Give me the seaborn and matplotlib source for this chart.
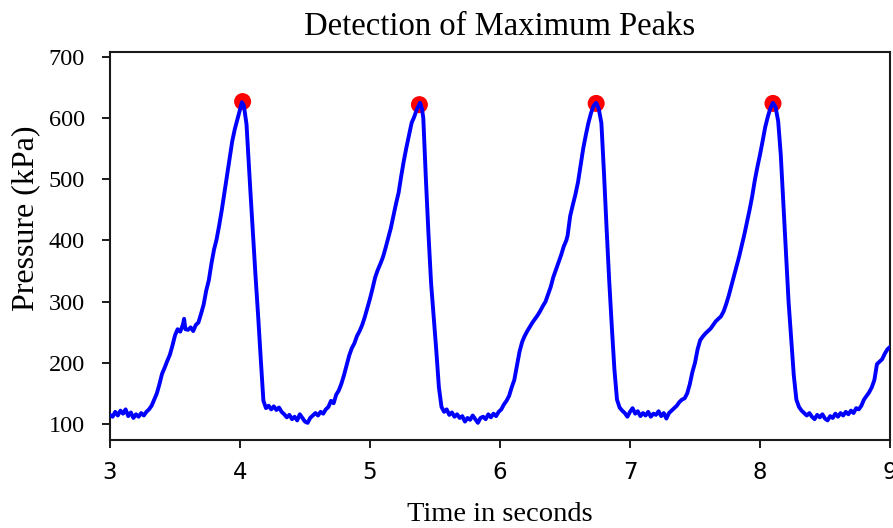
import matplotlib
matplotlib.use("Agg")
import matplotlib.pyplot as plt
import seaborn as sns
import pandas as pd

# ---- data ----
time_s = [
    3.00, 3.02, 3.04, 3.06, 3.08, 3.10, 3.12, 3.14, 3.16, 3.18, 3.20, 3.22, 3.24, 3.26,
    3.28, 3.30, 3.32, 3.34, 3.36, 3.38, 3.40, 3.42, 3.44, 3.46, 3.48, 3.50, 3.52, 3.54,
    3.56, 3.57, 3.58, 3.60, 3.62, 3.64, 3.66, 3.68, 3.70, 3.72, 3.74, 3.76, 3.78, 3.80,
    3.82, 3.84, 3.86, 3.88, 3.90, 3.92, 3.94, 3.96, 3.98, 4.00, 4.015, 4.03, 4.05, 4.08,
    4.10, 4.12, 4.14, 4.16, 4.18, 4.20,
    4.22, 4.24, 4.26, 4.28, 4.30, 4.32, 4.34, 4.36, 4.38, 4.40, 4.42, 4.44, 4.46, 4.48,
    4.50, 4.52, 4.54, 4.56, 4.58, 4.60, 4.62, 4.64, 4.66, 4.68, 4.70, 4.72, 4.74, 4.76,
    4.78, 4.80, 4.82, 4.84, 4.86, 4.88, 4.90, 4.92, 4.94, 4.96, 4.98, 5.00, 5.02, 5.04,
    5.06, 5.08, 5.10, 5.12, 5.14, 5.16, 5.18, 5.20, 5.22, 5.24, 5.26, 5.28, 5.30, 5.32,
    5.34, 5.36, 5.385, 5.40, 5.41, 5.43, 5.45, 5.47, 5.49, 5.51, 5.53, 5.55,
    5.57, 5.59, 5.61, 5.63, 5.65, 5.67, 5.69, 5.71, 5.73, 5.75, 5.77, 5.79, 5.81, 5.83,
    5.85, 5.87, 5.89, 5.91, 5.93, 5.95, 5.97, 5.99, 6.01, 6.03, 6.05, 6.07, 6.09, 6.11,
    6.13, 6.15, 6.17, 6.19, 6.21, 6.23, 6.25, 6.27, 6.29, 6.31, 6.33, 6.35, 6.37, 6.39,
    6.41, 6.43, 6.45, 6.47, 6.49, 6.51, 6.52, 6.54, 6.56, 6.58, 6.60, 6.62, 6.64, 6.66,
    6.68, 6.70, 6.72, 6.74, 6.76, 6.78, 6.80, 6.82, 6.84, 6.86, 6.88, 6.90, 6.92,
    6.94, 6.96, 6.98, 7.00, 7.02, 7.04, 7.06, 7.08, 7.10, 7.12, 7.14, 7.16, 7.18, 7.20,
    7.22, 7.24, 7.26, 7.28, 7.30, 7.32, 7.34, 7.36, 7.38, 7.40, 7.42, 7.44, 7.46, 7.48,
    7.50, 7.52, 7.54, 7.56, 7.58, 7.60, 7.62, 7.64, 7.66, 7.68, 7.70, 7.72, 7.74, 7.76,
    7.78, 7.80, 7.82, 7.84, 7.86, 7.88, 7.90, 7.92, 7.94, 7.96, 7.98, 8.00, 8.02, 8.04,
    8.06, 8.08, 8.10, 8.12, 8.14, 8.16, 8.18, 8.20, 8.22, 8.24, 8.26, 8.28, 8.30,
    8.32, 8.34, 8.36, 8.38, 8.40, 8.42, 8.44, 8.46, 8.48, 8.50, 8.52, 8.54, 8.56, 8.58,
    8.60, 8.62, 8.64, 8.66, 8.68, 8.70, 8.72, 8.74, 8.76, 8.78, 8.80, 8.82, 8.84, 8.86,
    8.88, 8.90, 8.92, 8.94, 8.96, 8.98, 9.00,
]
pressure_kpa = [
    115, 112, 120, 114, 122, 117, 124, 113, 119, 110, 116, 112, 118, 114,
    120, 124, 130, 140, 150, 165, 182, 192, 203, 213, 228, 245, 255, 251,
    262, 272, 255, 254, 258, 252, 262, 266, 280, 295, 318, 335, 362, 385,
    402, 425, 450, 478, 505, 535, 562, 582, 598, 614, 626, 620, 590, 480,
    410, 340, 275, 205, 138, 126,
    130, 124, 129, 123, 127, 120, 116, 111, 115, 108, 112, 106, 116, 110,
    104, 102, 110, 114, 118, 114, 120, 117, 124, 128, 138, 134, 148, 155,
    166, 180, 196, 212, 224, 232, 244, 252, 262, 275, 290, 305, 322, 340,
    352, 362, 373, 388, 404, 420, 440, 460, 478, 505, 530, 552, 572, 592,
    602, 614, 625, 615, 600, 500, 410, 330, 275, 220, 160, 128,
    120, 124, 115, 119, 112, 116, 110, 113, 104, 110, 107, 114, 108, 102,
    110, 112, 108, 116, 111, 117, 113, 120, 124, 132, 138, 146, 160, 172,
    195, 218, 234, 244, 252, 259, 266, 272, 278, 285, 293, 300, 312, 324,
    340, 352, 364, 376, 390, 400, 408, 440, 458, 475, 495, 522, 550, 572,
    592, 608, 620, 625, 615, 592, 510, 420, 335, 260, 190, 140, 127,
    122, 118, 112, 120, 126, 117, 121, 113, 118, 114, 120, 112, 117, 115,
    121, 113, 118, 109, 118, 122, 126, 130, 136, 140, 142, 150, 165, 185,
    200, 222, 237, 243, 248, 252, 256, 262, 268, 272, 276, 284, 296, 310,
    326, 342, 358, 374, 392, 410, 430, 450, 472, 498, 520, 540, 562, 585,
    602, 616, 625, 618, 595, 540, 460, 380, 300, 240, 180, 140, 128,
    122, 118, 114, 118, 112, 108, 115, 111, 116, 109, 106, 113, 110, 117,
    112, 118, 114, 120, 116, 122, 118, 126, 124, 130, 140, 146, 152, 160,
    172, 198, 202, 206, 215, 222, 226,
]
peak_times = [4.02, 5.38, 6.74, 8.10]
peak_values = [627, 622, 624, 624]

x_ticks = [3, 4, 5, 6, 7, 8, 9]
y_ticks = [100, 200, 300, 400, 500, 600, 700]

signal = pd.DataFrame({"t": time_s, "p": pressure_kpa})
peaks = pd.DataFrame({"t": peak_times, "p": peak_values})

sns.set_theme(style="ticks")
plt.rcParams["font.family"] = ["Liberation Serif", "DejaVu Serif"]
plt.rcParams["text.color"] = "black"
plt.rcParams["axes.labelcolor"] = "black"
plt.rcParams["xtick.color"] = "black"
plt.rcParams["ytick.color"] = "black"

fig = plt.figure(figsize=(8.93, 5.28), dpi=100)
ax = fig.add_axes([0.1232, 0.1667, 0.9966 - 0.1232, 0.9015 - 0.1667])

sns.scatterplot(data=peaks, x="t", y="p", ax=ax, color="red", s=150,
                edgecolor="none", linewidth=0, zorder=1)
sns.lineplot(data=signal, x="t", y="p", ax=ax, color="blue", linewidth=2.8,
             sort=False, estimator=None, zorder=3)

ax.set_xlim(3, 9)
ax.set_ylim(74, 708)
ax.set_xticks(x_ticks)
ax.set_yticks(y_ticks)

for side in ["left", "right", "top", "bottom"]:
    ax.spines[side].set_visible(True)
    ax.spines[side].set_linewidth(1.5)
    ax.spines[side].set_color("#1a1a1a")

ax.tick_params(axis="both", direction="out", length=6, width=1.4, color="#1a1a1a",
               labelcolor="black")
ax.tick_params(axis="y", pad=12, labelsize=17.5)
ax.tick_params(axis="x", pad=9, labelsize=16.5)
for lbl in ax.get_xticklabels():
    lbl.set_family("DejaVu Sans")
for lbl in ax.get_yticklabels():
    lbl.set_family("Liberation Serif")

ax.set_title("Detection of Maximum Peaks", fontsize=23.5, pad=12,
             family="Liberation Serif", color="black")
ax.set_xlabel("Time in seconds", fontsize=20.5, labelpad=13,
              family="Liberation Serif", color="black")
ax.set_ylabel("Pressure (kPa)", fontsize=23, family="Liberation Serif",
              color="black")
ax.yaxis.set_label_coords(-0.09, 0.572)

fig.savefig("out.png", dpi=100)
